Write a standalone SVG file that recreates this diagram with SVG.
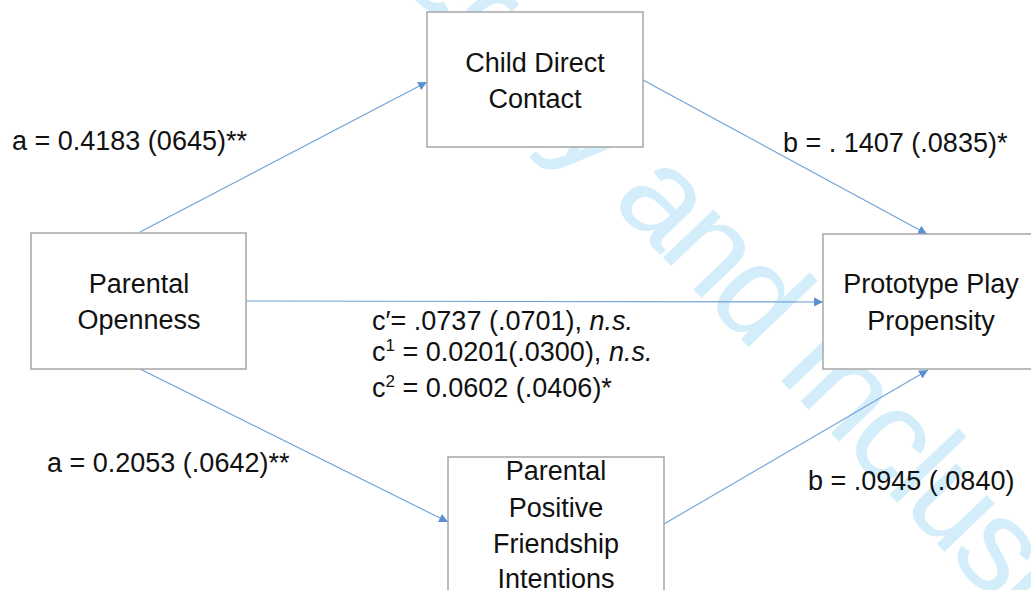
<svg xmlns="http://www.w3.org/2000/svg" width="1031" height="590" viewBox="0 0 1031 590">
<style>
  .wm { font-family: "Liberation Sans", Arial, sans-serif; font-size: 132px; letter-spacing: -5.3px; fill: #d3eefa; }
  .box { fill: #ffffff; stroke: #a6a6a6; stroke-width: 1.5; }
  .lbl { font-family: "Liberation Sans", Arial, sans-serif; font-size: 27px; fill: #111111; }
  .ctr { text-anchor: middle; }
  .conn { stroke: #6f9fd6; stroke-width: 1.1; fill: none; marker-end: url(#arr); }
  .it { font-style: italic; }
</style>
<defs>
  <marker id="arr" viewBox="0 0 10 10" refX="10" refY="5" markerWidth="9" markerHeight="9" markerUnits="userSpaceOnUse" orient="auto">
    <path d="M0,0 L10,5 L0,10 z" fill="#5b8fd0"/>
  </marker>
</defs>
<rect width="1031" height="590" fill="#ffffff"/>
<text class="wm" transform="translate(610 202) rotate(46.3)" x="-490" y="0">Diversity and Inclusion</text>

<g id="connectors">
  <line class="conn" x1="140" y1="232" x2="427" y2="82"/>
  <line class="conn" x1="643" y1="80" x2="927" y2="234"/>
  <line class="conn" x1="246" y1="301" x2="823" y2="302"/>
  <line class="conn" x1="140" y1="369" x2="448" y2="522"/>
  <line class="conn" x1="664" y1="524" x2="928" y2="370"/>
</g>

<g id="node-child">
  <rect class="box" x="427" y="12" width="216" height="135"/>
  <text class="lbl ctr" x="535" y="72">Child Direct</text>
  <text class="lbl ctr" x="535" y="108">Contact</text>
</g>
<g id="node-openness">
  <rect class="box" x="31" y="233" width="215" height="136"/>
  <text class="lbl ctr" x="139" y="293">Parental</text>
  <text class="lbl ctr" x="139" y="329">Openness</text>
</g>
<g id="node-prototype">
  <rect class="box" x="823" y="234" width="215" height="135"/>
  <text class="lbl ctr" x="931" y="293">Prototype Play</text>
  <text class="lbl ctr" x="931" y="330">Propensity</text>
</g>
<g id="node-friendship">
  <rect class="box" x="448" y="457" width="216" height="150"/>
  <text class="lbl ctr" x="556" y="480">Parental</text>
  <text class="lbl ctr" x="556" y="517">Positive</text>
  <text class="lbl ctr" x="556" y="553">Friendship</text>
  <text class="lbl ctr" x="556" y="588">Intentions</text>
</g>

<g id="labels">
  <text class="lbl" x="12" y="150">a = 0.4183 (0645)**</text>
  <text class="lbl" x="783" y="152">b = . 1407 (.0835)*</text>
  <text class="lbl" x="372" y="330">c′= .0737 (.0701), <tspan class="it">n.s.</tspan></text>
  <text class="lbl" x="372" y="361">c<tspan font-size="17" dy="-10">1</tspan><tspan dy="10"> = 0.0201(.0300), </tspan><tspan class="it">n.s.</tspan></text>
  <text class="lbl" x="372" y="397">c<tspan font-size="17" dy="-10">2</tspan><tspan dy="10"> = 0.0602 (.0406)*</tspan></text>
  <text class="lbl" x="47" y="472">a = 0.2053 (.0642)**</text>
  <text class="lbl" x="808" y="490">b = .0945 (.0840)</text>
</g>
</svg>
